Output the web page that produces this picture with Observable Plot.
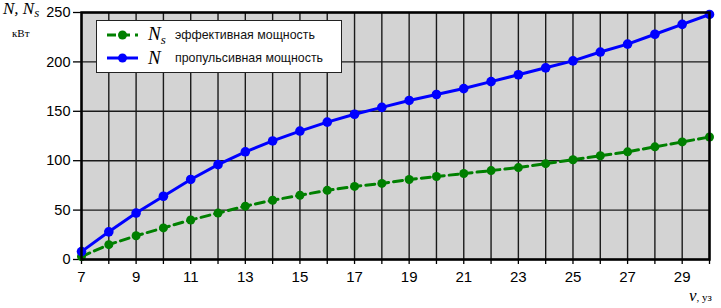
<!DOCTYPE html>
<html><head><meta charset="utf-8">
<script src="https://cdn.jsdelivr.net/npm/d3@7"></script>
<script src="https://cdn.jsdelivr.net/npm/@observablehq/plot@0.6"></script>
<style>
body{margin:0;background:#fff;}
#wrap{position:relative;width:721px;height:308px;font-family:"Liberation Sans",Arial,sans-serif;}
#wrap svg{display:block;}
.ylab{position:absolute;left:3px;top:0px;font-family:"Liberation Serif","Times New Roman",serif;font-style:italic;font-size:17px;line-height:18px;}
.ylab sub{font-size:13px;vertical-align:-3px;}
.yunit{position:absolute;left:12px;top:27px;font-family:"Liberation Serif",serif;font-size:11px;}
.xlab{position:absolute;left:689px;top:286px;font-family:"Liberation Serif",serif;font-size:11px;white-space:nowrap;}
.xlab i{font-size:17px;}
#legend{position:absolute;left:96px;top:20px;width:246px;height:53px;background:#fff;border:1.5px solid #222;box-sizing:border-box;}
.lrow{position:absolute;left:9px;height:20px;display:flex;align-items:center;white-space:nowrap;}
.lsym{font-family:"Liberation Serif",serif;font-style:italic;font-size:19px;width:27px;margin-left:9px;}
.lsym sub{font-size:13px;vertical-align:-4px;}
.ltxt{font-size:12.4px;color:#111;}
</style></head><body><div id="wrap"></div>
<script>
const speeds = [7,8,9,10,11,12,13,14,15,16,17,18,19,20,21,22,23,24,25,26,27,28,29,30];
const effectivePower = [3,15,24,32,40,47,54,60,65,70,74,77,81,84,87,90,93,97,101,105,109,114,119,124];
const propulsivePower = [8,28,47,64,81,96,109,120,130,139,147,154,161,167,173,180,187,194,201,210,218,228,238,248];
const xTicks = [7,8,9,10,11,12,13,14,15,16,17,18,19,20,21,22,23,24,25,26,27,28,29,30];
const xTickLabels = [7,9,11,13,15,17,19,21,23,25,27,29];
const yTicks = [0,50,100,150,200,250];
const seriesSymbols = ["N<sub>s</sub>", "N"];
const seriesNames = ["эффективная мощность", "пропульсивная мощность"];
const seriesColors = ["#008000", "#0000ff"];
const seriesDash = ["9,5", null];

const effRows = speeds.map((v, i) => ({v, p: effectivePower[i]}));
const propRows = speeds.map((v, i) => ({v, p: propulsivePower[i]}));

const chart = Plot.plot({
  width: 721, height: 308,
  marginLeft: 81, marginRight: 12, marginTop: 12, marginBottom: 49,
  style: {fontFamily: '"Liberation Sans",Arial,sans-serif', color: "#000", background: "#fff"},
  x: {domain: [7, 30]},
  y: {domain: [0, 250]},
  marks: [
    Plot.frame({fill: "#d3d3d3"}),
    Plot.gridX(xTicks, {stroke: "#1a1a1a", strokeOpacity: 1, strokeWidth: 1.4}),
    Plot.gridY(yTicks, {stroke: "#1a1a1a", strokeOpacity: 1, strokeWidth: 1.4}),
    Plot.axisX(xTicks, {tickSize: 5, tickPadding: 7, fontSize: 15, strokeWidth: 1.3, label: null,
      tickFormat: d => xTickLabels.includes(d) ? String(d) : ""}),
    Plot.axisY(yTicks, {tickSize: 8, tickPadding: 3, fontSize: 14.5, strokeWidth: 1.3, label: null}),
    Plot.line(effRows, {x: "v", y: "p", stroke: seriesColors[0], strokeWidth: 3, strokeDasharray: seriesDash[0]}),
    Plot.dot(effRows, {x: "v", y: "p", r: 4.5, fill: seriesColors[0]}),
    Plot.line(propRows, {x: "v", y: "p", stroke: seriesColors[1], strokeWidth: 3}),
    Plot.dot(propRows, {x: "v", y: "p", r: 4.8, fill: seriesColors[1]}),
    Plot.frame({stroke: "#000", strokeWidth: 2.5})
  ]
});
const wrap = document.getElementById("wrap");
wrap.appendChild(chart);

const yl = document.createElement("div"); yl.className = "ylab"; yl.innerHTML = "N, N<sub>s</sub>"; wrap.appendChild(yl);
const yu = document.createElement("div"); yu.className = "yunit"; yu.textContent = "кВт"; wrap.appendChild(yu);
const xl = document.createElement("div"); xl.className = "xlab"; xl.innerHTML = "<i>v</i>, уз"; wrap.appendChild(xl);

const leg = document.createElement("div"); leg.id = "legend";
seriesNames.forEach((name, i) => {
  const row = document.createElement("div"); row.className = "lrow"; row.style.top = (4 + i * 23) + "px";
  const dash = seriesDash[i] ? `stroke-dasharray="${seriesDash[i]}"` : "";
  row.innerHTML = `<svg width="33" height="14"><line x1="1" x2="32" y1="7" y2="7" stroke="${seriesColors[i]}" stroke-width="3" ${dash}/><circle cx="16.5" cy="7" r="4.5" fill="${seriesColors[i]}"/></svg>`
    + `<span class="lsym">${seriesSymbols[i]}</span><span class="ltxt">${name}</span>`;
  leg.appendChild(row);
});
wrap.appendChild(leg);
</script></body></html>
